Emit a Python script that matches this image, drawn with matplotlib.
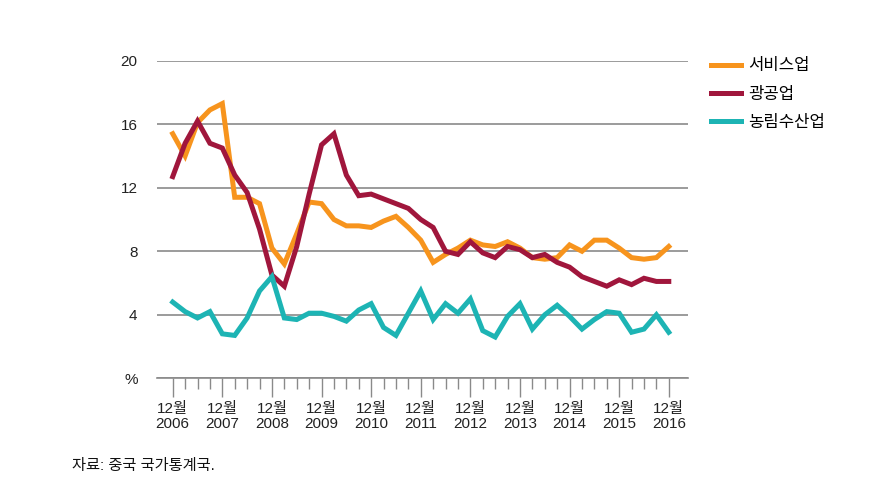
import matplotlib
matplotlib.use("Agg")
import matplotlib.pyplot as plt
from matplotlib.ticker import FixedLocator

plt.rcParams['font.family'] = ['Liberation Sans', 'Noto Sans CJK KR', 'DejaVu Sans']

# quarterly, Dec 2006 .. Dec 2016
years = list(range(2006, 2017))
services = [15.4, 14.0, 16.1, 16.9, 17.3, 11.4, 11.4, 11.0, 8.2, 7.2, 9.1, 11.1,
            11.0, 10.0, 9.6, 9.6, 9.5, 9.9, 10.2, 9.5, 8.7, 7.3, 7.8, 8.2,
            8.7, 8.4, 8.3, 8.6, 8.2, 7.6, 7.5, 7.6, 8.4, 8.0, 8.7, 8.7,
            8.2, 7.6, 7.5, 7.6, 8.3]
industry = [12.7, 14.8, 16.2, 14.8, 14.5, 12.8, 11.7, 9.4, 6.5, 5.8, 8.3, 11.6,
            14.7, 15.4, 12.8, 11.5, 11.6, 11.3, 11.0, 10.7, 10.0, 9.5, 8.0, 7.8,
            8.6, 7.9, 7.6, 8.3, 8.1, 7.6, 7.8, 7.3, 7.0, 6.4, 6.1, 5.8,
            6.2, 5.9, 6.3, 6.1, 6.1]
agri = [4.8, 4.2, 3.8, 4.2, 2.8, 2.7, 3.8, 5.5, 6.4, 3.8, 3.7, 4.1,
        4.1, 3.9, 3.6, 4.3, 4.7, 3.2, 2.7, 4.1, 5.5, 3.7, 4.7, 4.1,
        5.0, 3.0, 2.6, 3.9, 4.7, 3.1, 4.0, 4.6, 3.9, 3.1, 3.7, 4.2,
        4.1, 2.9, 3.1, 4.0, 2.9]
series_names = ['서비스업', '광공업', '농림수산업']
colors = ['#F7941D', '#A0163C', '#1DB4B4']

q = list(range(len(services)))

fig = plt.figure(figsize=(8.72, 5.03), dpi=100)
ax = fig.add_axes([0.18, 0.2479, 0.609, 0.6314])

for vals, name, col in zip([services, industry, agri], series_names, colors):
    ax.plot(q, vals, color=col, lw=3.6, label=name, solid_joinstyle='miter')

ax.set_xlim(-1.27, 41.55)
ax.set_ylim(0, 20)
ax.set_yticks([0, 4, 8, 12, 16, 20])
ax.set_yticklabels(['%', '4', '8', '12', '16', '20'])
ax.yaxis.grid(True, color='#8a8a8a', lw=1.2)
ax.set_axisbelow(True)

ax.xaxis.set_major_locator(FixedLocator([4 * k for k in range(len(years))]))
ax.xaxis.set_minor_locator(FixedLocator(q))
ax.set_xticklabels(['12월\n%d' % y for y in years])

for s in ['top', 'right', 'left']:
    ax.spines[s].set_visible(False)
ax.spines['bottom'].set_color('#8a8a8a')
ax.spines['bottom'].set_linewidth(1.2)

ax.tick_params(axis='y', length=0, pad=14, labelsize=11, colors='#222222')
ax.tick_params(axis='x', which='major', length=14, width=1, color='#8a8a8a',
               labelsize=11, labelcolor='#222222', pad=3)
ax.tick_params(axis='x', which='minor', length=8, width=1, color='#8a8a8a')
for lab in ax.get_xticklabels():
    lab.set_linespacing(1.1)

fig.legend(loc='upper left', bbox_to_anchor=(0.808, 0.897), frameon=False,
           fontsize=12, handlelength=1.8, handletextpad=0.4, labelspacing=0.8,
           borderaxespad=0)

fig.text(72 / 872, 1 - 466 / 503, '자료: 중국 국가통계국.', fontsize=11,
         va='center', ha='left', color='#111111')

fig.savefig('out.png', dpi=100)
